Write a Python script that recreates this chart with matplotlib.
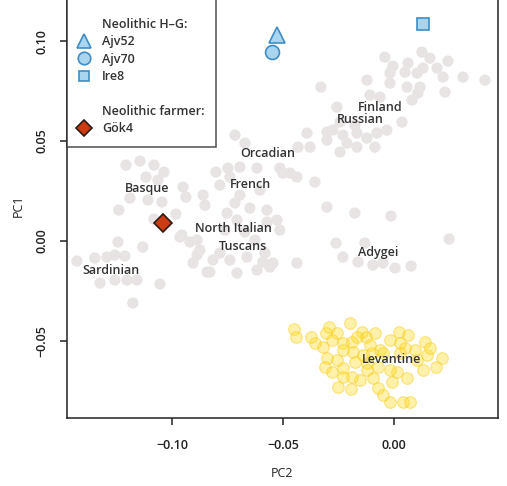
import matplotlib
matplotlib.use("Agg")
import matplotlib.pyplot as plt
from matplotlib.lines import Line2D

plt.rcParams['font.family'] = ['Open Sans', 'DejaVu Sans']
plt.rcParams['font.weight'] = 600

# Modern European / Caucasus reference individuals (PC2, PC1)
europe_pc2 = [-0.1207, -0.1144, -0.1081, -0.1036, -0.1117, -0.1063, -0.0950, -0.0860, -0.1189, -0.1108,
              -0.1045, -0.0937, -0.1239, -0.0982, -0.1081, -0.0964, -0.0887, -0.1243, -0.1131, -0.1212,
              -0.1293, -0.1347, -0.1428, -0.0887, -0.0905, -0.0842, -0.1324, -0.1257, -0.1203, -0.1158,
              -0.1054, -0.1176, -0.0955, -0.1257,
              -0.0716, -0.0671, -0.0802, -0.0739, -0.0748, -0.0694, -0.0617, -0.0514, -0.0468, -0.0437,
              -0.0356, -0.0784, -0.0716, -0.0649, -0.0572, -0.0752, -0.0707, -0.0572, -0.0527, -0.0514,
              -0.0919, -0.0874, -0.0784, -0.0815, -0.0739, -0.0662, -0.0590, -0.0545, -0.0437, -0.0617,
              -0.0707, -0.0829, -0.0302, -0.0581, -0.0559, -0.0671, -0.0626, -0.0761, -0.0694, -0.0604,
              -0.0851,
              -0.0392, -0.0302, -0.0432, -0.0378, -0.0243, -0.0086, -0.0500, -0.0176, -0.0014, 0.0248,
              -0.0261, -0.0131, -0.0230, -0.0162, -0.0095, -0.0050, 0.0005, 0.0077,
              -0.0329, -0.0041, 0.0126, 0.0162, 0.0243, -0.0005, 0.0063, 0.0131, 0.0194, -0.0018,
              0.0050, 0.0104, 0.0221, 0.0311, 0.0410, -0.0122, -0.0018, 0.0059, 0.0117, 0.0230,
              0.0108, 0.0081, -0.0108, -0.0063, -0.0257, 0.0036, -0.0032, -0.0275, -0.0230, -0.0167,
              -0.0122, -0.0077, -0.0302, -0.0212, -0.0167, -0.0243, -0.0176]
europe_pc1 = [0.0380, 0.0400, 0.0380, 0.0345, 0.0320, 0.0305, 0.0270, 0.0230, 0.0215, 0.0205,
              0.0195, 0.0220, 0.0155, 0.0135, 0.0110, 0.0020, 0.0005, -0.0005, -0.0030, -0.0075,
              -0.0080, -0.0085, -0.0100, -0.0070, -0.0110, -0.0155, -0.0210, -0.0195, -0.0195, -0.0195,
              -0.0215, -0.0310, 0.0030, -0.0070,
              0.0530, 0.0490, 0.0345, 0.0320, 0.0365, 0.0370, 0.0365, 0.0365, 0.0340, 0.0320,
              0.0295, 0.0280, 0.0190, 0.0165, 0.0155, 0.0140, 0.0105, 0.0095, 0.0105, 0.0055,
              -0.0005, -0.0045, -0.0060, -0.0095, -0.0095, -0.0080, -0.0105, -0.0110, -0.0110, -0.0145,
              -0.0160, -0.0155, 0.0170, -0.0060, -0.0130, 0.0045, 0.0005, 0.0055, 0.0230, 0.0255,
              0.0180,
              0.0540, 0.0545, 0.0470, 0.0470, 0.0445, 0.0470, 0.0340, 0.0140, 0.0125, 0.0010,
              -0.0010, -0.0010, -0.0080, -0.0105, -0.0120, -0.0110, -0.0135, -0.0125,
              0.0770, 0.0920, 0.0945, 0.0915, 0.0900, 0.0875, 0.0890, 0.0865, 0.0865, 0.0840,
              0.0845, 0.0840, 0.0820, 0.0820, 0.0805, 0.0805, 0.0790, 0.0770, 0.0770, 0.0745,
              0.0740, 0.0705, 0.0730, 0.0720, 0.0670, 0.0595, 0.0555, 0.0555, 0.0530, 0.0540,
              0.0515, 0.0540, 0.0505, 0.0490, 0.0470, 0.0595, 0.0580]

# Levantine individuals (PC2, PC1)
levant_pc2 = [-0.0450, -0.0441, -0.0374, -0.0356, -0.0320, -0.0293, -0.0306, -0.0257, -0.0198, -0.0279,
              -0.0230, -0.0189, -0.0144, -0.0126, -0.0108, -0.0018, 0.0023, 0.0063, 0.0050, 0.0140,
              0.0149, 0.0216, 0.0189, 0.0131, 0.0104, 0.0059, 0.0014, -0.0009, -0.0018, -0.0072,
              -0.0095, -0.0153, -0.0189, -0.0230, -0.0257, -0.0302, -0.0311, -0.0279, -0.0230, -0.0252,
              -0.0194, -0.0072, -0.0050, -0.0018, 0.0041, 0.0072, -0.0185, -0.0140, -0.0099, -0.0063,
              -0.0176, -0.0122, 0.0027, -0.0050, 0.0162, 0.0095, -0.0230, -0.0167, -0.0086, 0.0027,
              -0.0122]
levant_pc1 = [-0.0440, -0.0480, -0.0480, -0.0510, -0.0530, -0.0430, -0.0460, -0.0460, -0.0410, -0.0495,
              -0.0510, -0.0505, -0.0455, -0.0480, -0.0520, -0.0495, -0.0455, -0.0470, -0.0535, -0.0505,
              -0.0570, -0.0585, -0.0630, -0.0645, -0.0595, -0.0685, -0.0655, -0.0705, -0.0645, -0.0630,
              -0.0685, -0.0695, -0.0680, -0.0635, -0.0595, -0.0585, -0.0630, -0.0655, -0.0680, -0.0730,
              -0.0740, -0.0735, -0.0770, -0.0805, -0.0805, -0.0805, -0.0555, -0.0570, -0.0560, -0.0545,
              -0.0605, -0.0610, -0.0560, -0.0560, -0.0535, -0.0545, -0.0545, -0.0480, -0.0460, -0.0510,
              -0.0645]

# Population labels
pop_names = ["Finland", "Russian", "Orcadian", "French", "North Italian", "Tuscans",
             "Basque", "Sardinian", "Adygei", "Levantine"]
pop_pc2 = [-0.0063, -0.0153, -0.0568, -0.0644, -0.0725, -0.0680, -0.1113, -0.1275, -0.0072, -0.0009]
pop_pc1 = [0.0670, 0.0610, 0.0440, 0.0285, 0.0065, -0.0025, 0.0265, -0.0145, -0.0055, -0.0595]

# Ancient samples
ancient_names = ["Ajv52", "Ajv70", "Ire8", "Gök4"]
ancient_pc2 = [-0.0527, -0.0550, 0.0131, -0.1040]
ancient_pc1 = [0.1030, 0.0945, 0.1085, 0.0090]
ancient_markers = ["^", "o", "s", "D"]
ancient_sizes = [11, 10, 8.5, 9]

hg_face = "#a9d5ee"
hg_edge = "#3f8dc5"
farmer_face = "#cc3b12"
farmer_edge = "#2e1a12"
ancient_face = [hg_face, hg_face, hg_face, farmer_face]
ancient_edge = [hg_edge, hg_edge, hg_edge, farmer_edge]

fig = plt.figure(figsize=(5.07, 4.86), dpi=100)
ax = fig.add_axes([0.132, 0.140, 0.850, 0.872])

ax.scatter(europe_pc2, europe_pc1, s=66, color="#e8e4e4", edgecolors="none", zorder=1)
ax.scatter(levant_pc2, levant_pc1, s=70, facecolor=(1.0, 0.86, 0.12, 0.38),
           edgecolor=(0.97, 0.80, 0.10, 0.5), linewidths=0.8, zorder=2)

for n, x, y in zip(pop_names, pop_pc2, pop_pc1):
    ax.text(x, y, n, ha="center", va="center", fontsize=9, color="#333333", zorder=3)

for i in range(len(ancient_names)):
    ax.plot(ancient_pc2[i], ancient_pc1[i], marker=ancient_markers[i], ms=ancient_sizes[i],
            mfc=ancient_face[i], mec=ancient_edge[i], mew=1.2, ls="none", zorder=4)

ax.set_xlim(-0.1473, 0.0468)
ax.set_ylim(-0.0885, 0.1235)
ax.set_xticks([-0.10, -0.05, 0.00])
ax.set_xticklabels(["\u22120.10", "\u22120.05", "0.00"])
ax.set_yticks([-0.05, 0.00, 0.05, 0.10])
ax.set_yticklabels(["\u22120.05", "0.00", "0.05", "0.10"], rotation=90, va="center")
ax.tick_params(direction="out", length=5, width=1.1, labelsize=9, colors="#222222")
ax.tick_params(axis="x", pad=10)
ax.tick_params(axis="y", pad=8)
for sp in ax.spines.values():
    sp.set_linewidth(1.1)
    sp.set_color("#222222")
ax.set_xlabel("PC2", fontsize=9, color="#222222", labelpad=11)
ax.set_ylabel("PC1", fontsize=9, color="#222222", labelpad=8)

blank = Line2D([], [], ls="none", marker=None)
handles = [blank, blank]
labels = [" ", "Neolithic H\u2013G:"]
for i in range(3):
    handles.append(Line2D([], [], ls="none", marker=ancient_markers[i], ms=ancient_sizes[i] - 1,
                          mfc=ancient_face[i], mec=ancient_edge[i], mew=1.2))
    labels.append(ancient_names[i])
handles += [blank, blank]
labels += [" ", "Neolithic farmer:"]
handles.append(Line2D([], [], ls="none", marker="D", ms=8, mfc=farmer_face, mec=farmer_edge, mew=1.2))
labels.append(ancient_names[3])

leg = ax.legend(handles, labels, loc="upper left", bbox_to_anchor=(0.0, 1.0113), fontsize=9,
                frameon=True, fancybox=False, edgecolor="#222222", borderaxespad=0.0,
                handlelength=1.0, handletextpad=0.9, labelspacing=0.35, borderpad=0.9,
                labelcolor="#333333")
leg.get_frame().set_linewidth(1.1)

fig.savefig("out.png", dpi=100)
